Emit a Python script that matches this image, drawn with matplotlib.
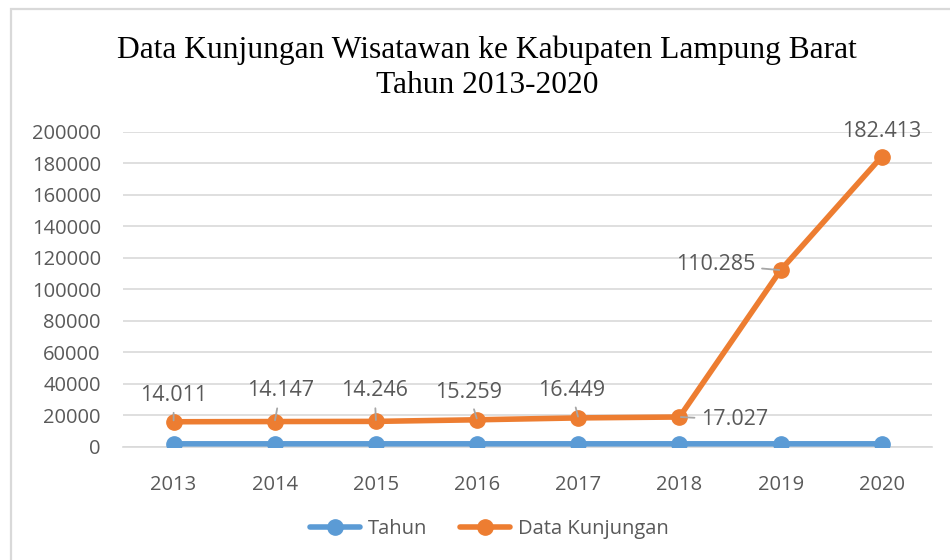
import matplotlib
matplotlib.use("Agg")
import matplotlib.pyplot as plt
from matplotlib.patches import Rectangle

# data (Excel stacked line chart: Data Kunjungan is drawn on top of Tahun)
years = ["2013", "2014", "2015", "2016", "2017", "2018", "2019", "2020"]
tahun = [2013, 2014, 2015, 2016, 2017, 2018, 2019, 2020]
kunjungan = [14011, 14147, 14246, 15259, 16449, 17027, 110285, 182413]
labels = ["14.011", "14.147", "14.246", "15.259", "16.449", "17.027", "110.285", "182.413"]

# label offsets in points (dx, dy) and whether a leader line is drawn
label_offsets = [(0, 19), (4, 22), (-1, 22), (-6, 20), (-5, 20), (40, -2), (-47, 4), (0, 18)]
leaders = [True, True, True, True, True, True, True, False]

BLUE = "#5B9BD5"
ORANGE = "#ED7D31"
TEXT = "#595959"
GRID = "#D9D9D9"
sans = ["Open Sans", "DejaVu Sans"]

fig = plt.figure(figsize=(9.5, 5.6), dpi=100)
ax = fig.add_axes([0.1295, 0.2018, 0.852, 0.5625])

x = list(range(len(years)))
stacked = [t + k for t, k in zip(tahun, kunjungan)]

ax.plot(x, tahun, color=BLUE, lw=4, marker="o", ms=11, label="Tahun",
        solid_capstyle="round", zorder=3)
ax.plot(x, stacked, color=ORANGE, lw=4, marker="o", ms=11, label="Data Kunjungan",
        solid_capstyle="round", zorder=4)

for xi, yi, lab, (dx, dy), ld in zip(x, stacked, labels, label_offsets, leaders):
    arrow = dict(arrowstyle="-", color="#A6A6A6", lw=1.3, shrinkA=3, shrinkB=1) if ld else None
    ax.annotate(lab, xy=(xi, yi), xytext=(dx, dy), textcoords="offset points",
                ha="center", va="center", fontsize=15.5, color=TEXT,
                family=sans, arrowprops=arrow, zorder=5)

ax.set_xlim(-0.5, len(years) - 0.5)
ax.set_ylim(0, 200000)
ax.set_yticks(range(0, 200001, 20000))
ax.set_xticks(x)
ax.set_xticklabels(years)
ax.grid(axis="y", color=GRID, lw=1.2)
ax.set_axisbelow(True)
for s in ["top", "right", "left"]:
    ax.spines[s].set_visible(False)
ax.spines["bottom"].set_color(GRID)
ax.spines["bottom"].set_linewidth(1.2)
ax.tick_params(axis="both", length=0, labelsize=14.5, labelcolor=TEXT)
ax.tick_params(axis="x", pad=20)
ax.tick_params(axis="y", pad=16)
for t in ax.get_xticklabels() + ax.get_yticklabels():
    t.set_family(sans)

fig.text(0.5126, 0.879, "Data Kunjungan Wisatawan ke Kabupaten Lampung Barat\nTahun 2013-2020",
         ha="center", va="center", fontsize=22.7, family="Liberation Serif",
         color="black", linespacing=1.25)

leg = fig.legend(loc="center", bbox_to_anchor=(0.515, 0.056), ncol=2, frameon=False,
                 prop={"family": sans, "size": 14.5}, handlelength=2.5, columnspacing=1.6,
                 handletextpad=0.4)
for t in leg.get_texts():
    t.set_color(TEXT)

# chart area border (Excel frame, cut off at right/bottom)
fig.patches.append(Rectangle((11 / 950, -0.1), 1.2, 1.1 - 9 / 560,
                             transform=fig.transFigure, fill=False,
                             edgecolor=GRID, lw=1.6))

fig.savefig("out.png", dpi=100)
